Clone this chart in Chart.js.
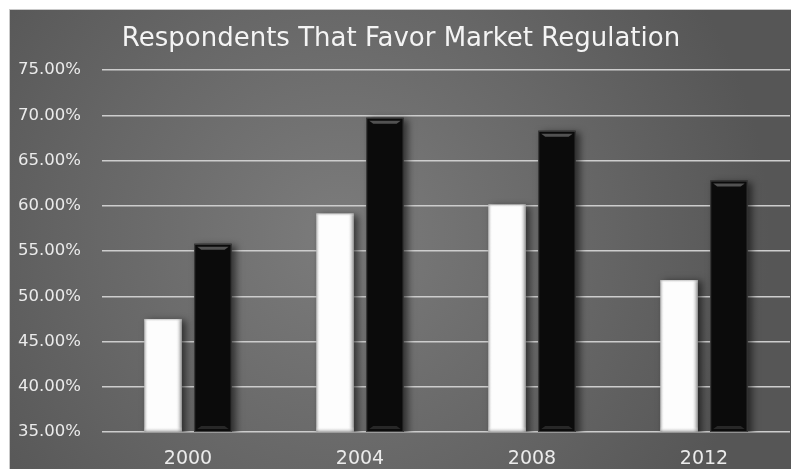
<!DOCTYPE html>
<html>
<head>
<meta charset="utf-8">
<script src="https://cdn.jsdelivr.net/npm/chart.js@4.4.0/dist/chart.umd.min.js"></script>
<style>
html, body { margin: 0; padding: 0; background: #fff; overflow: hidden; }
#wrap { width: 791px; height: 469px; position: relative; }
</style>
</head>
<body>
<div id="wrap"><canvas id="myChart"></canvas></div>
<script>
// values (percent)
const years = ['2000', '2004', '2008', '2012'];
const whiteSeries = [47.5, 59.15, 60.15, 51.8];
const blackSeries = [55.8, 69.75, 68.3, 62.8];
const yMin = 35, yMax = 75, yStep = 5;

// dark panel with a soft radial light in the middle
const panelBackground = {
    id: 'panelBackground',
    beforeDraw(chart) {
        const ctx = chart.ctx;
        ctx.save();
        ctx.fillStyle = '#ffffff';
        ctx.fillRect(0, 0, chart.width, chart.height);
        const g = ctx.createRadialGradient(340, 235, 10, 340, 235, 430);
        g.addColorStop(0, '#7b7b7b');
        g.addColorStop(0.55, '#676767');
        g.addColorStop(1, '#565656');
        ctx.fillStyle = g;
        ctx.fillRect(10, 10, chart.width - 10, chart.height - 10);
        ctx.strokeStyle = '#c9c9c9';
        ctx.lineWidth = 1;
        ctx.strokeRect(9.5, 9.5, chart.width, chart.height);
        ctx.restore();
    }
};

// drop shadow to the right of each bar
const barShadow = {
    id: 'barShadow',
    beforeDatasetDraw(chart) {
        const ctx = chart.ctx;
        ctx.save();
        ctx.shadowColor = 'rgba(0,0,0,0.55)';
        ctx.shadowBlur = 7;
        ctx.shadowOffsetX = 4;
        ctx.shadowOffsetY = 1;
    },
    afterDatasetDraw(chart) {
        chart.ctx.restore();
    }
};

// bevel look on the bars, placed from the bar elements
const barBevel = {
    id: 'barBevel',
    afterDatasetsDraw(chart) {
        const ctx = chart.ctx;
        const area = chart.chartArea;
        chart.data.datasets.forEach((ds, di) => {
            const meta = chart.getDatasetMeta(di);
            meta.data.forEach(bar => {
                const p = bar.getProps(['x', 'y', 'base', 'width'], true);
                const l = p.x - p.width / 2, r = p.x + p.width / 2;
                const t = p.y, b = Math.min(p.base, area.bottom);
                ctx.save();
                if (di === 0) {
                    let g = ctx.createLinearGradient(l, 0, l + 4, 0);
                    g.addColorStop(0, 'rgba(140,140,140,0.7)');
                    g.addColorStop(1, 'rgba(255,255,255,0)');
                    ctx.fillStyle = g;
                    ctx.fillRect(l, t, 4, b - t);
                    g = ctx.createLinearGradient(r - 6, 0, r, 0);
                    g.addColorStop(0, 'rgba(255,255,255,0)');
                    g.addColorStop(1, 'rgba(110,110,110,0.8)');
                    ctx.fillStyle = g;
                    ctx.fillRect(r - 6, t, 6, b - t);
                    g = ctx.createLinearGradient(0, t, 0, t + 3);
                    g.addColorStop(0, 'rgba(150,150,150,0.6)');
                    g.addColorStop(1, 'rgba(255,255,255,0)');
                    ctx.fillStyle = g;
                    ctx.fillRect(l, t, r - l, 3);
                    g = ctx.createLinearGradient(0, b - 5, 0, b);
                    g.addColorStop(0, 'rgba(255,255,255,0)');
                    g.addColorStop(1, 'rgba(130,130,130,0.7)');
                    ctx.fillStyle = g;
                    ctx.fillRect(l, b - 5, r - l, 5);
                } else {
                    ctx.strokeStyle = 'rgba(70,70,70,0.9)';
                    ctx.lineWidth = 1;
                    ctx.strokeRect(l + 0.5, t + 0.5, r - l - 1, b - t - 1);
                    ctx.fillStyle = 'rgba(95,95,95,0.85)';
                    ctx.beginPath();
                    ctx.moveTo(l + 3, t + 3);
                    ctx.lineTo(r - 3, t + 3);
                    ctx.lineTo(r - 7, t + 6);
                    ctx.lineTo(l + 7, t + 6);
                    ctx.closePath();
                    ctx.fill();
                    ctx.fillStyle = 'rgba(60,60,60,0.6)';
                    ctx.beginPath();
                    ctx.moveTo(l + 7, b - 6);
                    ctx.lineTo(r - 7, b - 6);
                    ctx.lineTo(r - 3, b - 3);
                    ctx.lineTo(l + 3, b - 3);
                    ctx.closePath();
                    ctx.fill();
                }
                ctx.restore();
            });
        });
    }
};

const ctx = document.getElementById('myChart').getContext('2d');
new Chart(ctx, {
    type: 'bar',
    data: {
        labels: years,
        datasets: [
            {
                label: 'Series 1',
                data: whiteSeries,
                backgroundColor: '#fdfdfd',
                borderWidth: 0,
                categoryPercentage: 0.58,
                barPercentage: 0.75
            },
            {
                label: 'Series 2',
                data: blackSeries,
                backgroundColor: '#0b0b0b',
                borderWidth: 0,
                categoryPercentage: 0.58,
                barPercentage: 0.75
            }
        ]
    },
    options: {
        responsive: true,
        maintainAspectRatio: false,
        animation: false,
        layout: { padding: { left: 12, right: 1, top: 10, bottom: 0 } },
        scales: {
            x: {
                grid: { display: false, drawTicks: false },
                border: { display: false },
                afterFit: s => { s.height = 37; },
                ticks: {
                    color: '#ebebeb',
                    padding: 16,
                    font: { family: 'DejaVu Sans', size: 19 }
                }
            },
            y: {
                min: yMin,
                max: yMax,
                afterFit: s => { s.width = 90; },
                grid: { color: '#cdcdcd', lineWidth: 1.6, drawTicks: false },
                border: { display: false },
                ticks: {
                    stepSize: yStep,
                    color: '#ebebeb',
                    padding: 21,
                    font: { family: 'DejaVu Sans', size: 16.5 },
                    callback: v => v.toFixed(2) + '%'
                }
            }
        },
        plugins: {
            legend: { display: false },
            tooltip: { enabled: false },
            title: {
                display: true,
                text: 'Respondents That Favor Market Regulation',
                color: '#f4f4f4',
                font: { family: 'DejaVu Sans', size: 26, weight: 'normal' },
                padding: { top: 14, bottom: 15 }
            }
        }
    },
    plugins: [panelBackground, barShadow, barBevel]
});
</script>
</body>
</html>
